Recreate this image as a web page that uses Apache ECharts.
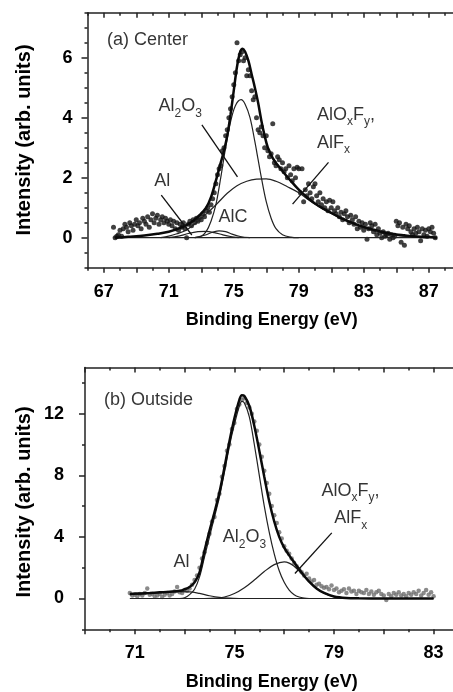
<!DOCTYPE html>
<html><head><meta charset="utf-8">
<script src="https://cdn.jsdelivr.net/npm/echarts@6/dist/echarts.min.js"></script>
<style>html,body{margin:0;padding:0;background:#fff}#c{width:453px;height:692px}</style>
</head><body><div id="c"></div>
<script>
// ---------- Panel (a) Center ----------
const xDotsA = [67.6,67.7,67.8,67.9,
68.0,68.1,68.2,68.3,68.4,68.5,68.6,68.7,68.8,68.9,
69.0,69.1,69.2,69.3,69.4,69.5,69.6,69.7,69.8,69.9,
70.0,70.1,70.2,70.3,70.4,70.5,70.6,70.7,70.8,70.9,
71.0,71.1,71.2,71.3,71.4,71.5,71.6,71.7,71.8,71.9,
72.0,72.1,72.2,72.3,72.4,72.5,72.6,72.7,72.8,72.9,
73.0,73.1,73.2,73.3,73.4,73.5,73.6,73.7,73.8,73.9,
74.0,74.1,74.2,74.3,74.4,74.5,74.6,74.7,74.8,74.9,
75.0,75.1,75.2,75.3,75.4,75.5,75.6,75.7,75.8,75.9,
76.0,76.1,76.2,76.3,76.4,76.5,76.6,76.7,76.8,76.9,
77.0,77.1,77.2,77.3,77.4,77.5,77.6,77.7,77.8,77.9,
78.0,78.1,78.2,78.3,78.4,78.5,78.6,78.7,78.8,78.9,
79.0,79.1,79.2,79.3,79.4,79.5,79.6,79.7,79.8,79.9,
80.0,80.1,80.2,80.3,80.4,80.5,80.6,80.7,80.8,80.9,
81.0,81.1,81.2,81.3,81.4,81.5,81.6,81.7,81.8,81.9,
82.0,82.1,82.2,82.3,82.4,82.5,82.6,82.7,82.8,82.9,
83.0,83.1,83.2,83.3,83.4,83.5,83.6,83.7,83.8,83.9,
84.0,84.1,84.2,84.3,84.4,84.5,84.6,84.7,84.8,84.9,
85.0,85.1,85.2,85.3,85.4,85.5,85.6,85.7,85.8,85.9,
86.0,86.1,86.2,86.3,86.4,86.5,86.6,86.7,86.8,86.9,
87.0,87.1,87.2,87.3,87.4];
const yDotsA = [0.35,0.0,0.05,0.1,
0.25,0.05,0.3,0.45,0.35,0.2,0.5,0.4,0.25,0.45,
0.6,0.4,0.5,0.3,0.65,0.55,0.45,0.7,0.35,0.6,
0.8,0.5,0.65,0.75,0.45,0.6,0.7,0.5,0.65,0.55,
0.45,0.6,0.4,0.55,0.3,0.5,0.25,0.45,0.35,0.5,
0.3,0.0,0.45,0.55,0.4,0.6,0.5,0.65,0.55,0.7,
0.6,0.8,0.7,0.9,1.0,0.85,1.1,1.3,1.5,1.8,
2.1,2.3,2.4,2.9,3.0,3.4,3.6,4.0,4.3,4.7,
5.1,5.5,6.5,5.9,6.1,6.2,5.9,6.0,5.4,5.6,
5.4,4.9,4.6,4.7,4.0,3.6,3.5,3.7,3.4,3.0,
3.4,2.9,2.7,2.8,3.8,2.5,2.4,2.7,2.6,2.3,
2.5,2.2,2.3,2.0,2.4,2.1,1.9,2.3,2.0,2.35,
2.3,1.5,2.3,1.2,1.6,1.4,1.8,1.5,1.3,1.7,
1.8,1.4,1.2,1.5,1.1,1.3,1.0,1.2,0.9,1.25,
1.0,1.2,0.9,0.8,1.0,0.7,0.85,0.6,0.8,0.9,
0.7,0.5,0.75,0.6,0.45,0.7,0.3,0.55,0.35,0.5,
0.25,0.45,-0.05,0.3,0.5,0.4,0.2,0.45,0.1,0.3,
0.15,0.0,0.2,0.05,0.1,0.15,-0.05,0.1,0.0,0.05,
0.55,0.4,0.5,-0.15,0.35,-0.25,0.45,0.3,0.4,0.2,
0.1,0.3,0.15,0.35,0.2,-0.1,0.3,0.1,0.25,0.05,
0.3,0.2,0.35,0.15,0.0];

const xEnvA = [67.7,68.5,69.5,70.3,71.0,71.7,72.3,72.9,73.3,73.6,73.9,74.2,74.4,74.6,74.8,75.0,75.2,75.4,75.55,75.7,75.9,76.1,76.3,76.5,76.7,76.9,77.1,77.4,77.7,78.0,78.5,79.0,79.5,80.0,80.5,81.0,81.5,82.0,82.5,83.0,83.5,84.0,84.5,85.0,85.5,86.0,86.5,87.0,87.5];
const yEnvA = [0.0,0.03,0.07,0.13,0.2,0.33,0.48,0.75,1.0,1.35,1.9,2.5,2.9,3.4,4.1,4.9,5.7,6.2,6.3,6.2,5.9,5.45,5.0,4.5,3.9,3.4,3.0,2.65,2.42,2.22,1.9,1.6,1.35,1.14,0.97,0.83,0.68,0.56,0.45,0.36,0.28,0.21,0.15,0.11,0.08,0.05,0.03,0.02,0.0];

const xAl2O3A = [72.6,73.0,73.3,73.6,73.9,74.2,74.5,74.8,75.1,75.45,75.7,76.0,76.3,76.5,76.7,77.0,77.3,77.6,78.0,78.5,79.0];
const yAl2O3A = [0,0.05,0.2,0.55,1.1,2.0,3.0,3.85,4.4,4.6,4.45,4.0,3.2,2.6,2.0,1.2,0.65,0.3,0.1,0.02,0];

const xAlOxFyA = [70.5,71.0,71.5,72.1,72.7,73.35,74.0,74.6,75.2,75.8,76.4,77.0,77.6,78.3,79.0,79.5,80.2,81.1,82.0,83.2,84.2,85.2,86.2,87.0];
const yAlOxFyA = [0.0,0.05,0.13,0.26,0.5,0.81,1.15,1.48,1.73,1.88,1.95,1.96,1.88,1.7,1.5,1.3,1.05,0.78,0.54,0.29,0.14,0.06,0.02,0.0];

const xAlA = [71.0,71.6,72.2,72.8,73.3,73.8,74.3,74.8,75.3];
const yAlA = [0,0.05,0.14,0.2,0.21,0.17,0.1,0.04,0];

const xAlCA = [72.6,73.2,73.7,74.1,74.5,74.9,75.4,76.0];
const yAlCA = [0,0.08,0.18,0.23,0.2,0.12,0.04,0];

const xBaseA = [67.6,87.5];
const yBaseA = [0,0];

const xLabelsA = [67,71,75,79,83,87];
const xMajorTicksA = [67,69,71,73,75,77,79,81,83,85,87];
const xMinorTicksA = [66,68,70,72,74,76,78,80,82,84,86,88];
const yLabelsA = [0,2,4,6];
const yMinorTicksA = [-1,-0.5,0.5,1,1.5,2.5,3,3.5,4.5,5,5.5,6.5,7,7.5];

// ---------- Panel (b) Outside ----------
const xDotsB = [70.8,70.9,
71.0,71.1,71.2,71.3,71.4,71.5,71.6,71.7,71.8,71.9,
72.0,72.1,72.2,72.3,72.4,72.5,72.6,72.7,72.8,72.9,
73.0,73.1,73.2,73.3,73.4,73.5,73.6,73.7,73.8,73.9,
74.0,74.1,74.2,74.3,74.4,74.5,74.6,74.7,74.8,74.9,
75.0,75.1,75.2,75.3,75.4,75.5,75.6,75.7,75.8,75.9,
76.0,76.1,76.2,76.3,76.4,76.5,76.6,76.7,76.8,76.9,
77.0,77.1,77.2,77.3,77.4,77.5,77.6,77.7,77.8,77.9,
78.0,78.1,78.2,78.3,78.4,78.5,78.6,78.7,78.8,78.9,
79.0,79.1,79.2,79.3,79.4,79.5,79.6,79.7,79.8,79.9,
80.0,80.1,80.2,80.3,80.4,80.5,80.6,80.7,80.8,80.9,
81.0,81.1,81.2,81.3,81.4,81.5,81.6,81.7,81.8,81.9,
82.0,82.1,82.2,82.3,82.4,82.5,82.6,82.7,82.8,82.9,
83.0];
const yDotsB = [0.35,0.2,
0.25,0.15,0.3,0.2,0.35,0.65,0.25,0.3,0.15,0.2,
0.3,0.1,0.25,0.35,0.2,0.3,0.45,0.75,0.4,0.35,
0.55,0.5,0.65,0.9,1.2,1.5,2.0,2.6,3.0,3.6,
4.2,5.0,5.3,6.4,6.8,7.9,8.6,9.6,10.0,11.0,
11.4,12.3,12.6,12.9,13.0,12.7,12.4,12.0,11.5,10.9,
10.0,9.2,8.3,7.5,6.8,6.0,5.4,4.9,4.3,3.9,
3.4,3.1,2.9,2.6,2.3,2.1,1.9,1.7,1.5,1.6,
1.3,1.1,1.2,0.9,0.95,0.8,0.7,0.75,0.6,0.85,
0.55,0.65,0.4,0.5,0.6,0.35,0.65,0.45,0.5,0.3,
0.5,0.4,0.35,0.55,0.3,0.45,0.25,0.4,0.5,0.3,
0.2,-0.1,0.3,0.15,0.35,0.25,0.4,0.2,0.3,0.15,
0.35,0.25,0.4,0.3,0.5,0.2,0.35,0.55,0.25,0.4,
0.15];

const xEnvB = [70.8,71.2,71.6,72.0,72.4,72.8,73.0,73.2,73.4,73.6,73.8,74.0,74.2,74.4,74.6,74.8,75.0,75.2,75.3,75.4,75.6,75.8,76.0,76.2,76.4,76.6,76.8,77.0,77.2,77.4,77.6,77.8,78.0,78.3,78.6,79.0,79.5,80.0,81.0,82.0,83.0];
const yEnvB = [0.3,0.33,0.36,0.4,0.44,0.5,0.6,0.75,1.05,1.7,3.1,4.4,5.6,6.9,8.5,10.2,11.7,12.9,13.2,13.15,12.5,11.2,9.6,7.9,6.3,5.0,4.0,3.3,2.8,2.35,1.9,1.48,1.1,0.65,0.36,0.13,0.03,0.01,0,0,0];

const xAl2O3B = [72.8,73.0,73.2,73.4,73.6,73.8,74.0,74.2,74.4,74.6,74.8,75.0,75.2,75.3,75.4,75.6,75.8,76.0,76.2,76.4,76.6,76.8,77.0,77.2,77.4,77.6,77.8,78.0];
const yAl2O3B = [0,0.05,0.25,0.6,1.4,2.7,4.0,5.3,6.6,8.2,9.9,11.3,12.5,12.8,12.7,11.8,10.0,8.0,6.0,4.3,2.9,1.8,1.05,0.55,0.25,0.1,0.03,0];

const xAlOxFyB = [73.8,74.2,74.6,75.0,75.4,75.8,76.2,76.6,77.0,77.2,77.4,77.6,77.8,78.0,78.3,78.6,79.0,79.5,80.0];
const yAlOxFyB = [0,0.02,0.1,0.32,0.7,1.2,1.75,2.2,2.38,2.3,2.1,1.8,1.45,1.1,0.65,0.35,0.12,0.03,0];

const xAlB = [70.8,71.2,71.6,72.0,72.4,72.8,73.2,73.6,74.0,74.4,74.8,75.2];
const yAlB = [0.25,0.29,0.33,0.37,0.41,0.44,0.43,0.33,0.18,0.07,0.02,0];

const xBaseB = [70.8,83.0];
const yBaseB = [0,0];

const xLabelsB = [71,75,79,83];
const xMajorTicksB = [69,71,73,75,77,79,81,83,85];
const xMinorTicksB = [70,72,74,76,78,80,82,84];
const yLabelsB = [0,4,8,12];
const yMinorTicksB = [-2,2,6,10,14];

// ---------- build ----------
const F = '"Liberation Sans", Arial, Helvetica, sans-serif';
const AX = '#222';
const TXT = '#000';
const zip = (xs, ys) => xs.map((x, i) => [x, ys[i]]);

function xAxes(g, min, max, majors, minors, labels) {
  const hidden = {show:false, onZero:false};
  const base = {type:'value', gridIndex:g, min:min, max:max, splitLine:{show:false}, axisLine:hidden, axisTick:{show:false}, axisLabel:{show:false}};
  const ls = {color:AX, width:1.5};
  return [
    Object.assign({}, base, {position:'bottom', axisLine:{show:true,onZero:false,lineStyle:ls},
      axisTick:{show:true,length:5,customValues:majors,lineStyle:ls},
      axisLabel:{show:true,customValues:labels,margin:15,fontSize:18,fontWeight:'bold',color:TXT,fontFamily:F}}),
    Object.assign({}, base, {position:'bottom', axisTick:{show:true,length:3,customValues:minors,lineStyle:ls}}),
    Object.assign({}, base, {position:'top', axisLine:{show:true,onZero:false,lineStyle:ls},
      axisTick:{show:true,inside:true,length:5,customValues:majors,lineStyle:ls}}),
    Object.assign({}, base, {position:'top', axisTick:{show:true,inside:true,length:3,customValues:minors,lineStyle:ls}})
  ];
}
function yAxes(g, min, max, labels, minors, margin) {
  const ls = {color:AX, width:1.5};
  const base = {type:'value', gridIndex:g, min:min, max:max, position:'left', splitLine:{show:false}};
  return [
    Object.assign({}, base, {axisLine:{show:true,onZero:false,lineStyle:ls},
      axisTick:{show:true,length:6,customValues:labels,lineStyle:ls},
      axisLabel:{show:true,customValues:labels,margin:margin,fontSize:18,fontWeight:'bold',color:TXT,fontFamily:F}}),
    Object.assign({}, base, {axisLine:{show:false,onZero:false},
      axisTick:{show:true,length:3,customValues:minors,lineStyle:ls}, axisLabel:{show:false}})
  ];
}

const rich = {
  n:{fontSize:18, fontFamily:F, color:TXT, lineHeight:22, verticalAlign:'top'},
  s:{fontSize:12, fontFamily:F, color:TXT, lineHeight:12, verticalAlign:'bottom'}
};
function annot(xi, yi, items) {
  return {type:'scatter', xAxisIndex:xi, yAxisIndex:yi, symbolSize:0, silent:true, z:10,
    data: items.map(it => ({value:[it[0], it[1]], label:{show:true, position:'right', distance:0, formatter:it[2], rich:rich}}))};
}
function curve(xi, yi, xs, ys, w, color) {
  return {type:'line', xAxisIndex:xi, yAxisIndex:yi, data:zip(xs, ys), showSymbol:false, symbol:'none',
    smooth:0.35, lineStyle:{width:w, color:color}, z:5, silent:true};
}
function seg(xi, yi, p, q) {
  return {type:'line', xAxisIndex:xi, yAxisIndex:yi, data:[p, q], showSymbol:false, symbol:'none',
    lineStyle:{width:1.3, color:'#111'}, z:6, silent:true};
}
function dots(xi, yi, xs, ys, color, size) {
  return {type:'scatter', xAxisIndex:xi, yAxisIndex:yi, data:zip(xs, ys), symbol:'circle', symbolSize:size,
    itemStyle:{color:color}, z:3, silent:true};
}

const option = {
  animation:false,
  backgroundColor:'#fff',
  grid:[
    {left:87.5, top:12.7, width:373.75, height:255, outerBoundsMode:'none', containLabel:false},
    {left:85, top:367.5, width:398.4, height:261.8, outerBoundsMode:'none', containLabel:false}
  ],
  xAxis: xAxes(0, 66, 89, xMajorTicksA, xMinorTicksA, xLabelsA).concat(xAxes(1, 69, 85, xMajorTicksB, xMinorTicksB, xLabelsB)),
  yAxis: yAxes(0, -1, 7.5, yLabelsA, yMinorTicksA, 15).concat(yAxes(1, -2, 15, yLabelsB, yMinorTicksB, 21)),
  series:[
    dots(0, 0, xDotsA, yDotsA, '#111', 5),
    curve(0, 0, xBaseA, yBaseA, 1.2, '#222'),
    curve(0, 0, xAlA, yAlA, 1.2, '#222'),
    curve(0, 0, xAlCA, yAlCA, 1.2, '#222'),
    curve(0, 0, xAl2O3A, yAl2O3A, 1.2, '#222'),
    curve(0, 0, xAlOxFyA, yAlOxFyA, 1.2, '#222'),
    curve(0, 0, xEnvA, yEnvA, 2.5, '#0a0a0a'),
    seg(0, 0, [73.04, 3.76], [75.23, 2.03]),
    seg(0, 0, [80.83, 2.51], [78.62, 1.12]),
    seg(0, 0, [70.54, 1.42], [72.42, 0.09]),
    annot(0, 0, [
      [67.2, 6.53, '{n|(a) Center}'],
      [70.37, 4.31, '{n|Al}{s|2}{n|O}{s|3}'],
      [80.12, 4.03, '{n|AlO}{s|x}{n|F}{s|y}{n|,}'],
      [80.12, 3.09, '{n|AlF}{s|x}'],
      [70.1, 1.83, '{n|Al}'],
      [74.06, 0.62, '{n|AlC}']
    ]),
    dots(4, 2, xDotsB, yDotsB, '#6e6e6e', 4.5),
    curve(4, 2, xBaseB, yBaseB, 1.2, '#222'),
    curve(4, 2, xAlB, yAlB, 1.2, '#222'),
    curve(4, 2, xAl2O3B, yAl2O3B, 1.2, '#222'),
    curve(4, 2, xAlOxFyB, yAlOxFyB, 1.2, '#222'),
    curve(4, 2, xEnvB, yEnvB, 2.5, '#0a0a0a'),
    seg(4, 2, [78.91, 4.26], [77.43, 1.62]),
    annot(4, 2, [
      [69.76, 12.77, '{n|(b) Outside}'],
      [74.53, 3.83, '{n|Al}{s|2}{n|O}{s|3}'],
      [72.55, 2.23, '{n|Al}'],
      [78.5, 6.88, '{n|AlO}{s|x}{n|F}{s|y}{n|,}'],
      [79.01, 5.08, '{n|AlF}{s|x}']
    ])
  ],
  graphic:[
    {type:'text', x:271.7, y:320, style:{text:'Binding Energy (eV)', font:'bold 18px ' + F, fill:TXT, align:'center', verticalAlign:'middle'}},
    {type:'text', x:271.7, y:681.7, style:{text:'Binding Energy (eV)', font:'bold 18px ' + F, fill:TXT, align:'center', verticalAlign:'middle'}},
    {type:'text', x:24, y:140, rotation:Math.PI/2, style:{text:'Intensity (arb. units)', font:'bold 20px ' + F, fill:TXT, align:'center', verticalAlign:'middle'}},
    {type:'text', x:24, y:502, rotation:Math.PI/2, style:{text:'Intensity (arb. units)', font:'bold 20px ' + F, fill:TXT, align:'center', verticalAlign:'middle'}}
  ]
};
const chart = echarts.init(document.getElementById('c'), null, {renderer:'canvas'});
chart.setOption(option);
</script></body></html>
